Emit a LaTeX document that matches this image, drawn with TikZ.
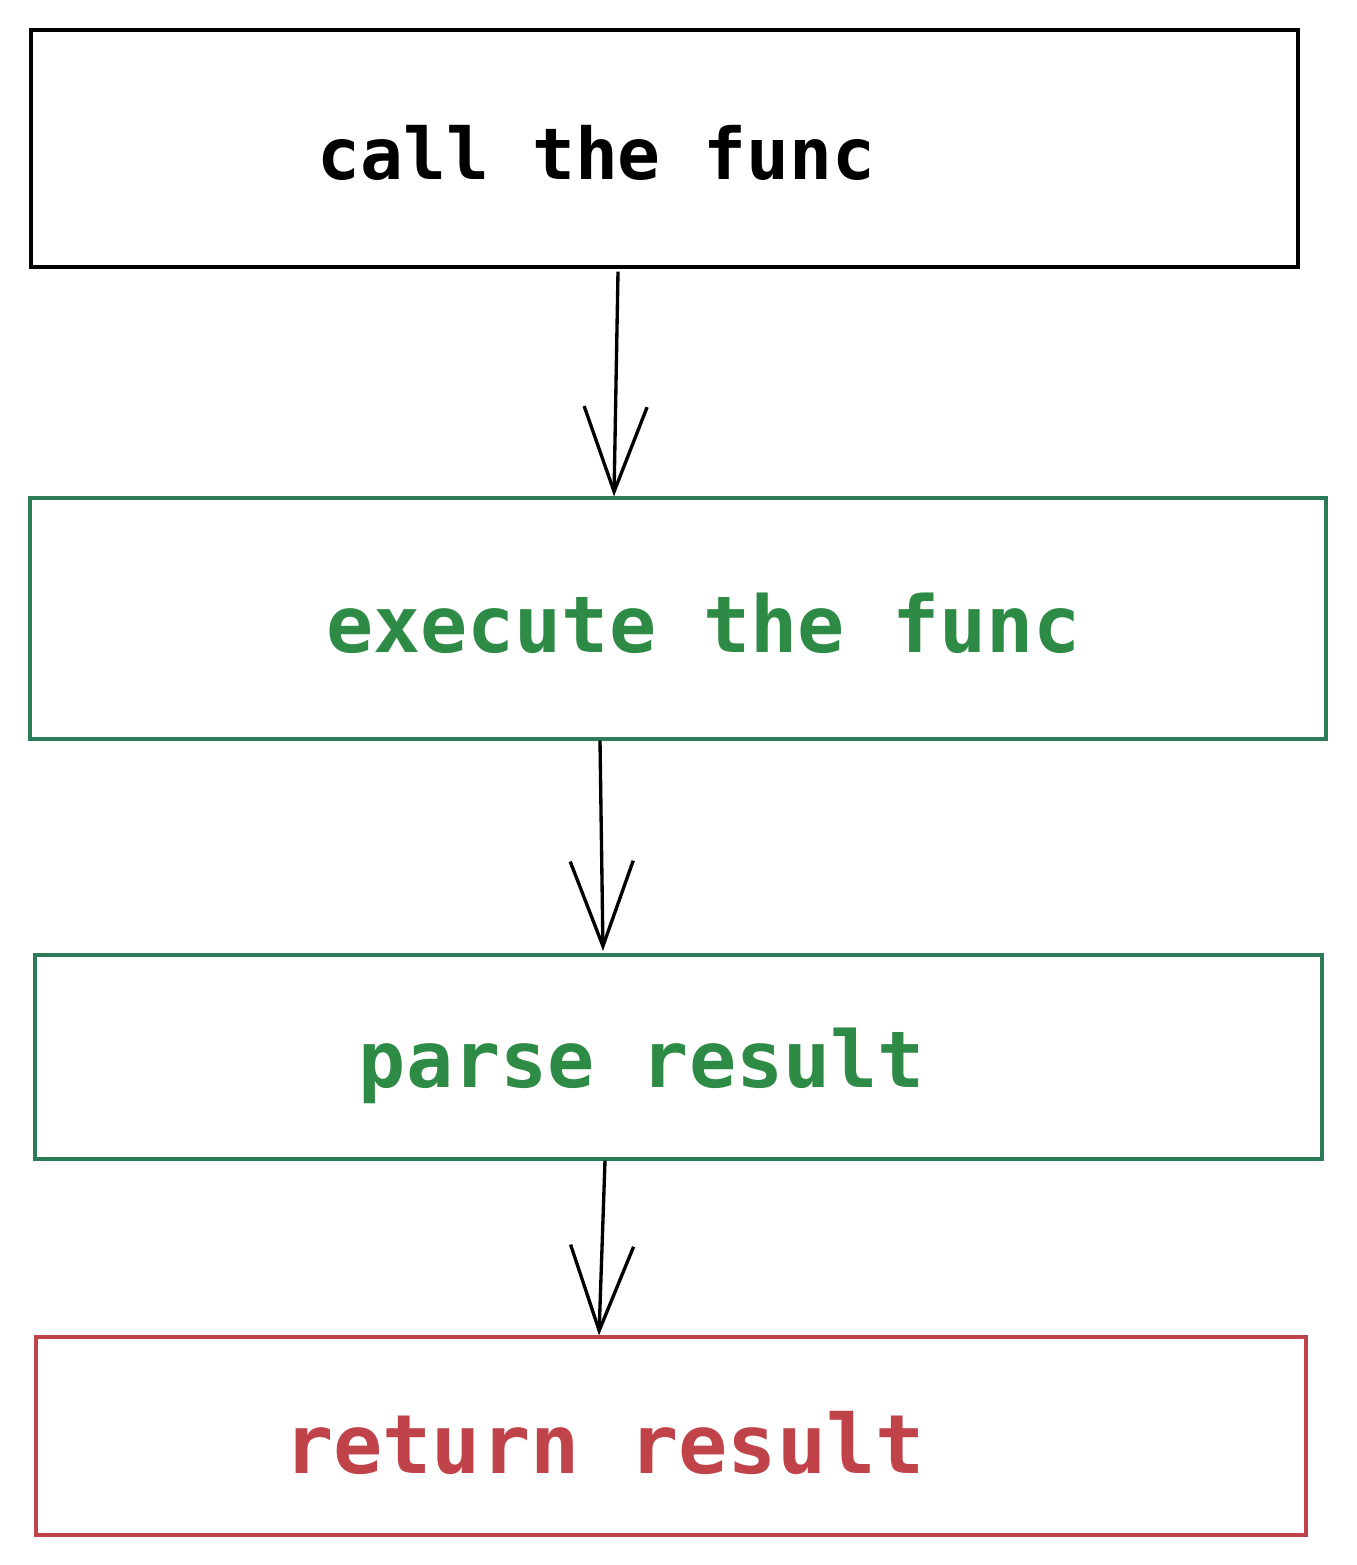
\documentclass[tikz,border=0pt]{standalone}
\usepackage{fontspec}
\setmonofont{DejaVu Sans Mono}
\usetikzlibrary{arrows.meta,positioning,calc}
\definecolor{boxgreen}{HTML}{2B7A58}
\definecolor{txtgreen}{HTML}{2E8B45}
\definecolor{boxred}{HTML}{C0434A}

\begin{document}
\begin{tikzpicture}[>={Straight Barb[length=1.7cm, width=1.26cm]},
    box/.style={draw=#1, line width=1.8pt, fill=white,
                inner sep=0pt},
    lbl/.style={font=\ttfamily\bfseries, text=#1, anchor=base,
                inner sep=0pt},
    arr/.style={->, line width=1.9pt, black}]

  \useasboundingbox (0,0) rectangle (27.12,-31.3);

  %% ── Boxes ──────────────────────────────────────────────
  \node[box=black, minimum width=25.34cm, minimum height=4.74cm] (call) at (13.29,-2.97) {};
  \node[box=boxgreen, minimum width=25.92cm, minimum height=4.82cm] (exec) at (13.56,-12.37) {};
  \node[box=boxgreen, minimum width=25.74cm, minimum height=4.08cm] (parse) at (13.57,-21.14) {};
  \node[box=boxred, minimum width=25.40cm, minimum height=3.96cm] (ret) at (13.42,-28.72) {};

  %% ── Labels ─────────────────────────────────────────────
  \node[lbl=black, font=\ttfamily\bfseries\fontsize{40.6}{41}\selectfont] (call_t) at (11.93,-3.60) {call the func};
  \node[lbl=txtgreen, font=\ttfamily\bfseries\fontsize{44.6}{45}\selectfont] (exec_t) at (14.07,-13.04) {execute the func};
  \node[lbl=txtgreen, font=\ttfamily\bfseries\fontsize{44.6}{45}\selectfont] (parse_t) at (12.84,-21.74) {parse result};
  \node[lbl=boxred, font=\ttfamily\bfseries\fontsize{46.6}{47}\selectfont] (ret_t) at (12.09,-29.46) {return result};

  %% ── Flow ───────────────────────────────────────────────
  \draw[arr] ([xshift=-0.93cm, yshift=-0.06cm]call.south) -- ([xshift=-1.28cm]exec.north);
  \draw[arr] ([xshift=-1.56cm]exec.south) -- ([xshift=-1.51cm, yshift=0.05cm]parse.north);
  \draw[arr] ([xshift=-1.47cm]parse.south) -- ([xshift=-1.44cm]ret.north);

\end{tikzpicture}
\end{document}
